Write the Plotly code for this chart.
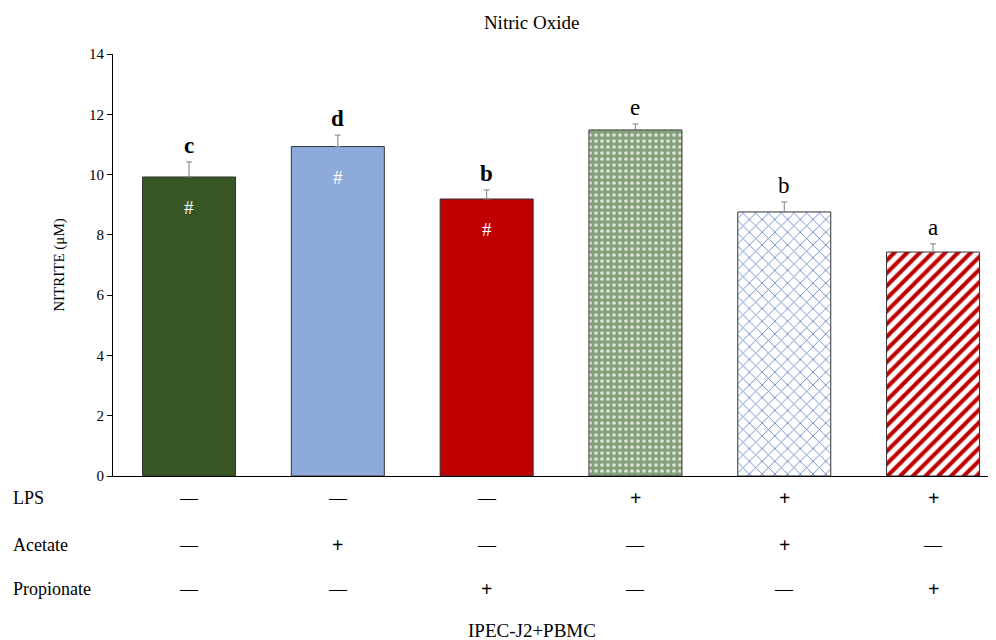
import plotly.graph_objects as go

categories = ["Control", "Acetate", "Propionate", "LPS", "LPS+Acetate", "LPS+Propionate"]
values = [9.92, 10.93, 9.19, 11.48, 8.76, 7.43]
errors = [0.50, 0.38, 0.30, 0.20, 0.33, 0.27]
letters = ["c", "d", "b", "e", "b", "a"]
hash_marks = ["#", "#", "#", "", "", ""]
lps = ["—", "—", "—", "+", "+", "+"]
acetate = ["—", "+", "—", "—", "+", "—"]
propionate = ["—", "—", "+", "—", "—", "+"]
row_labels = ["LPS", "Acetate", "Propionate"]

FONT = "Liberation Serif"
xs = list(range(len(categories)))

colors = ["#375623", "#8eaadb", "#c00000", "#84a078", "#ffffff", "#ffffff"]
shapes = ["", "", "", ".", "x", "/"]
fgcolors = ["#375623", "#8eaadb", "#c00000", "#ffffff", "#6f8dcc", "#c00000"]
fgop = [1, 1, 1, 0.7, 1, 1]
sizes = [8, 8, 8, 6, 9, 9]
solid = [0.3, 0.3, 0.3, 0.3, 0.2, 0.45]

fig = go.Figure()
for i in xs:
    fig.add_trace(go.Bar(
        x=[i], y=[values[i]], width=0.625,
        marker=dict(
            color=colors[i],
            line=dict(color="#333333", width=1),
            pattern=dict(shape=shapes[i], fgcolor=fgcolors[i], fgopacity=fgop[i], size=sizes[i],
                         solidity=solid[i], fillmode="overlay"),
        ),
        error_y=dict(type="data", symmetric=False, array=[errors[i]], arrayminus=[0],
                     color="#7f7f7f", thickness=1, width=3),
        showlegend=False,
    ))

tops = [v + e for v, e in zip(values, errors)]
for i, (x, t, l) in enumerate(zip(xs, tops, letters)):
    fig.add_annotation(x=x, y=t, text=("<b>%s</b>" % l) if i < 3 else l, showarrow=False,
                       yanchor="bottom", yshift=2, font=dict(family=FONT, size=23, color="#000"))
for x, v, h in zip(xs, values, hash_marks):
    if h:
        fig.add_annotation(x=x, y=v, text=h, showarrow=False, yshift=-31,
                           font=dict(family=FONT, size=19, color="#ffffff"))

row_y = [-0.052, -0.164, -0.268]
for lab, yy, row in zip(row_labels, row_y, [lps, acetate, propionate]):
    fig.add_annotation(xref="paper", yref="paper", x=-0.1155, y=yy, text=lab, showarrow=False,
                       xanchor="left", yanchor="middle", font=dict(family=FONT, size=18, color="#000"))
    for x, s in zip(xs, row):
        txt = "<b>+</b>" if s == "+" else s
        fig.add_annotation(xref="x", yref="paper", x=x, y=yy, text=txt, showarrow=False,
                           yanchor="middle",
                           font=dict(family=FONT, size=20 if s == "+" else 18, color="#000"))

fig.add_annotation(xref="paper", yref="paper", x=0.4745, y=-0.365, text="IPEC-J2+PBMC",
                   showarrow=False, yanchor="middle", font=dict(family=FONT, size=19, color="#000"))

fig.update_layout(
    width=988, height=632,
    barmode="overlay",
    margin=dict(l=105, r=0, t=46, b=164),
    plot_bgcolor="white", paper_bgcolor="white",
    title=dict(text="Nitric Oxide", x=0.53, xanchor="center", y=0.9775, yanchor="middle",
               font=dict(family=FONT, size=19, color="#000")),
    font=dict(family=FONT, color="#000"),
    xaxis=dict(range=[-0.511, 5.423], showticklabels=False, ticks="", showgrid=False,
               zeroline=False, showline=True, linecolor="#000", linewidth=1),
    yaxis=dict(range=[0, 14], dtick=2, ticks="outside", ticklen=5, tickcolor="#000",
               showgrid=False, zeroline=False, showline=True, linecolor="#000", linewidth=1,
               tickfont=dict(family=FONT, size=15, color="#000"),
               title=dict(text="NITRITE (μM)", font=dict(family=FONT, size=15, color="#000"), standoff=20)),
)

fig.write_html("out.html")
